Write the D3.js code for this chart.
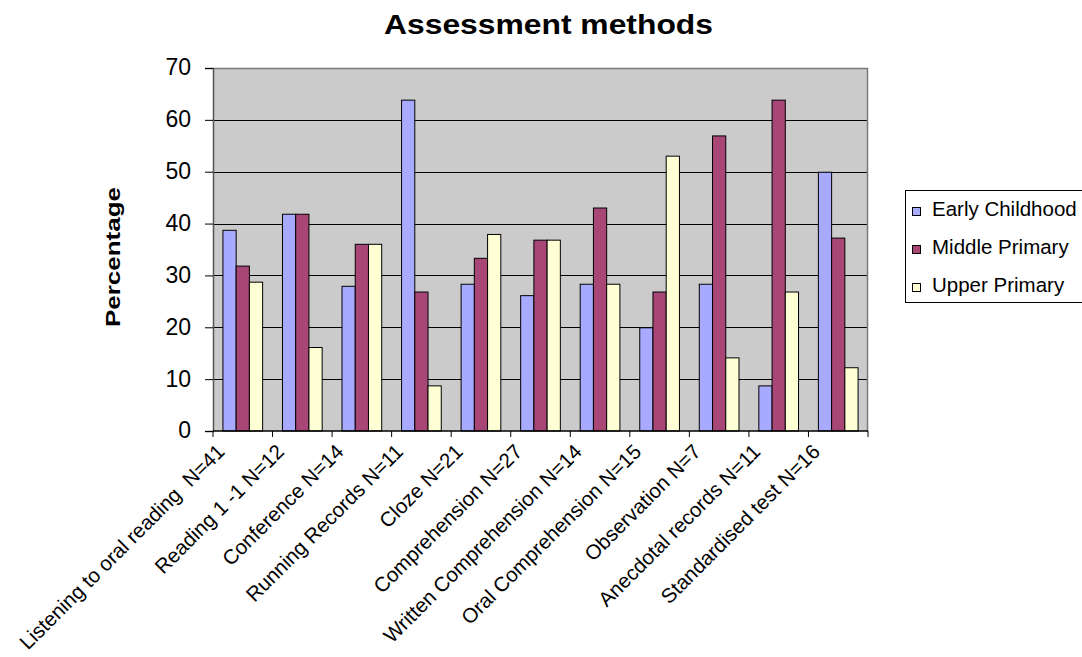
<!DOCTYPE html>
<html>
<head>
<meta charset="utf-8">
<script src="https://cdn.jsdelivr.net/npm/d3@7"></script>
<style>
  html, body { margin: 0; padding: 0; background: #ffffff; }
  svg { display: block; font-family: Arial, "Liberation Sans", sans-serif; }
</style>
</head>
<body>
<svg id="chart" width="1082" height="657"></svg>
<script>
// Assessment methods used, by teaching stage (percentage of respondents)
const categories = [
  "Listening to oral reading  N=41",
  "Reading 1 -1 N=12",
  "Conference N=14",
  "Running Records N=11",
  "Cloze N=21",
  "Comprehension N=27",
  "Written Comprehension N=14",
  "Oral Comprehension N=15",
  "Observation N=7",
  "Anecdotal records N=11",
  "Standardised test N=16"
];
const seriesNames = ["Early Childhood", "Middle Primary", "Upper Primary"];
const earlyChildhood = [38.7, 41.8, 27.9, 63.8, 28.3, 26.1, 28.3, 19.9, 28.3, 8.7, 49.9];
const middlePrimary  = [31.8, 41.8, 36.0, 26.8, 33.3, 36.8, 43.0, 26.8, 56.9, 63.8, 37.2];
const upperPrimary   = [28.7, 16.1, 36.0, 8.7, 37.9, 36.8, 28.3, 53.0, 14.1, 26.8, 12.2];
const yTicks = [0, 10, 20, 30, 40, 50, 60, 70];
const titleText = "Assessment methods";
const yTitle = "Percentage";

const seriesValues = [earlyChildhood, middlePrimary, upperPrimary];
const colors = ["#a8aaff", "#a84676", "#ffffd6"];

const svg = d3.select("#chart");
const plot = { left: 213, right: 868, top: 68, bottom: 431 };

const y = d3.scaleLinear().domain([0, 70]).range([plot.bottom, plot.top]);
const x0 = d3.scaleBand().domain(categories)
  .range([plot.left, plot.right])
  .paddingInner(1 / 3).paddingOuter(1 / 6);
const x1 = d3.scaleBand().domain(seriesNames).range([0, x0.bandwidth()]);
const colour = d3.scaleOrdinal().domain(seriesNames).range(colors);

// plot background
svg.append("rect")
  .attr("x", plot.left).attr("y", plot.top)
  .attr("width", plot.right - plot.left).attr("height", plot.bottom - plot.top)
  .attr("fill", "#cbcbcb");

// horizontal gridlines
const grid = svg.append("g")
  .attr("transform", `translate(${plot.left},0)`)
  .call(d3.axisLeft(y).tickValues(yTicks.filter(t => t > 0 && t < 70))
    .tickSize(-(plot.right - plot.left)).tickFormat(""));
grid.select(".domain").remove();
grid.selectAll("line").attr("stroke", "#000").attr("stroke-width", 1)
  .attr("shape-rendering", "crispEdges");

// plot frame (top and right)
svg.append("path")
  .attr("d", `M${plot.left},${plot.top + 0.5}H${plot.right - 0.5}V${plot.bottom}`)
  .attr("fill", "none").attr("stroke", "#7a7a7a").attr("stroke-width", 1.5);

// bars
const rows = categories.map((c, i) => ({
  category: c,
  values: seriesNames.map((s, k) => ({ series: s, value: seriesValues[k][i] }))
}));
svg.append("g").selectAll("g")
  .data(rows).join("g")
  .attr("transform", d => `translate(${x0(d.category)},0)`)
  .selectAll("rect")
  .data(d => d.values).join("rect")
  .attr("x", d => x1(d.series))
  .attr("y", d => y(d.value))
  .attr("width", x1.bandwidth())
  .attr("height", d => y(0) - y(d.value))
  .attr("fill", d => colour(d.series))
  .attr("stroke", "#000").attr("stroke-width", 1);

// y axis
const yAxis = svg.append("g")
  .attr("transform", `translate(${plot.left},0)`)
  .call(d3.axisLeft(y).tickValues(yTicks).tickSize(8).tickPadding(14).tickFormat(d3.format("d")));
yAxis.select(".domain").attr("stroke", "#555").attr("stroke-width", 1.5);
yAxis.selectAll("line").attr("stroke", "#000");
yAxis.selectAll("text")
  .attr("font-size", 23).attr("fill", "#000")
  .attr("font-family", "Arial, 'Liberation Sans', sans-serif")
  .attr("dy", "0.3em");

// x axis: baseline, boundary ticks and rotated category labels
const step = x0.step();
const boundaries = d3.range(categories.length + 1).map(i => x0.range()[0] + i * step);
const xAxis = svg.append("g");
xAxis.append("line")
  .attr("x1", plot.left).attr("x2", plot.right)
  .attr("y1", plot.bottom).attr("y2", plot.bottom)
  .attr("stroke", "#000").attr("stroke-width", 1.5);
xAxis.selectAll("line.tick").data(boundaries).join("line")
  .attr("class", "tick")
  .attr("x1", d => d).attr("x2", d => d)
  .attr("y1", plot.bottom).attr("y2", plot.bottom + 6)
  .attr("stroke", "#000");
xAxis.selectAll("text").data(categories).join("text")
  .attr("transform", d => {
    const cx = x0(d) + x0.bandwidth() / 2;
    return `translate(${cx - 17},${plot.bottom + 22}) rotate(-45)`;
  })
  .attr("text-anchor", "end")
  .attr("font-size", 20.5)
  .style("white-space", "pre")
  .attr("fill", "#000")
  .text(d => d);

// title
svg.append("text")
  .attr("x", 384).attr("y", 34)
  .attr("font-size", 28).attr("font-weight", "bold")
  .attr("textLength", 329).attr("lengthAdjust", "spacingAndGlyphs")
  .attr("fill", "#000")
  .text(titleText);

// y axis title
svg.append("text")
  .attr("transform", "translate(119.5,327) rotate(-90)")
  .attr("font-size", 21).attr("font-weight", "bold")
  .attr("textLength", 140).attr("lengthAdjust", "spacingAndGlyphs")
  .attr("fill", "#000")
  .text(yTitle);

// legend
const legend = svg.append("g");
legend.append("rect")
  .attr("x", 905.5).attr("y", 190.5)
  .attr("width", 190).attr("height", 112)
  .attr("fill", "#fff").attr("stroke", "#000").attr("stroke-width", 1);
const baselines = [216, 254, 292];
seriesNames.forEach((s, k) => {
  legend.append("rect")
    .attr("x", 912.5).attr("y", baselines[k] - 8.5)
    .attr("width", 8).attr("height", 8)
    .attr("fill", colour(s)).attr("stroke", "#000").attr("stroke-width", 1);
  legend.append("text")
    .attr("x", 932).attr("y", baselines[k])
    .attr("font-size", 20.5).attr("fill", "#000")
    .text(s);
});
</script>
</body>
</html>
